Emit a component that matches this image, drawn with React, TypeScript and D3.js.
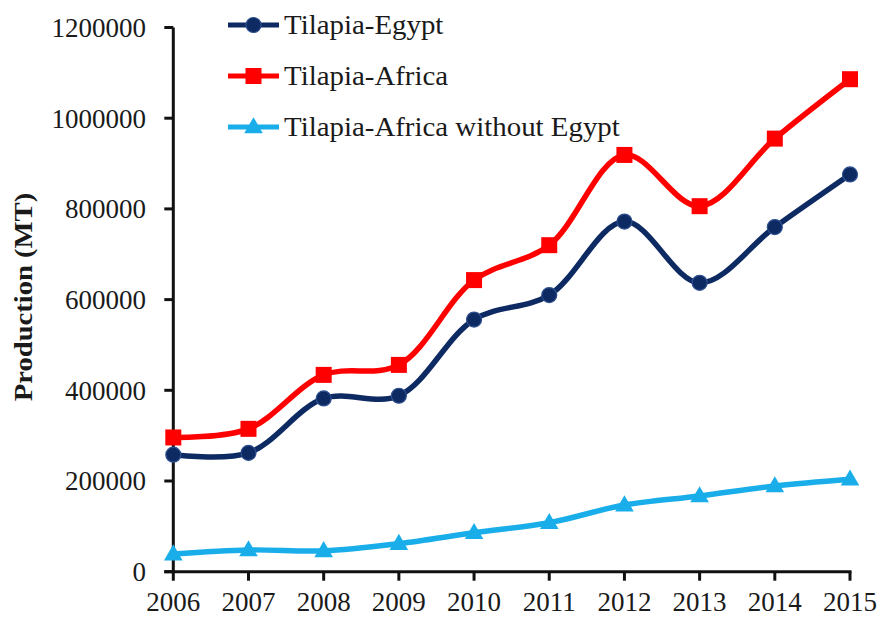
import React, { useEffect, useRef } from "react";
import * as d3 from "d3";

const years = [2006, 2007, 2008, 2009, 2010, 2011, 2012, 2013, 2014, 2015];
const egypt = [258000, 262000, 382000, 388000, 556000, 610000, 772000, 637000, 760000, 876000];
const africa = [296000, 315000, 434000, 456000, 643000, 720000, 919000, 806000, 955000, 1086000];
const africaNoEgypt = [39000, 48000, 46000, 62000, 86000, 108000, 147000, 167000, 189000, 204000];
const yTicks = [0, 200000, 400000, 600000, 800000, 1000000, 1200000];

const seriesList = [
    { name: "Tilapia-Egypt", values: egypt, color: "#0d2a63", marker: "circle" },
    { name: "Tilapia-Africa", values: africa, color: "#ff0000", marker: "square" },
    { name: "Tilapia-Africa without Egypt", values: africaNoEgypt, color: "#19aeea", marker: "triangle" },
];

const W = 881;
const H = 620;
const FONT = "'Liberation Serif', 'Times New Roman', serif";

export default function App() {
    const svgRef = useRef<SVGSVGElement>(null);

    useEffect(() => {
        if (!svgRef.current) return;
        const svg = d3.select(svgRef.current);
        svg.selectAll("*").remove();

        const x = d3.scaleLinear().domain([2006, 2015]).range([173.3, 850]);
        const y = d3.scaleLinear().domain([0, 1200000]).range([571.7, 27.5]);

        // axes
        const g = svg.append("g");
        g.append("line").attr("x1", x(2006)).attr("x2", x(2006)).attr("y1", y(1200000)).attr("y2", y(0))
            .attr("stroke", "#111").attr("stroke-width", 3);
        g.append("line").attr("x1", x(2006) - 9).attr("x2", x(2015) + 1.5).attr("y1", y(0)).attr("y2", y(0))
            .attr("stroke", "#111").attr("stroke-width", 3);

        yTicks.forEach(t => {
            g.append("line").attr("x1", x(2006) - 9).attr("x2", x(2006)).attr("y1", y(t)).attr("y2", y(t))
                .attr("stroke", "#111").attr("stroke-width", 3);
            g.append("text").attr("x", 146).attr("y", y(t)).attr("dy", "0.35em")
                .attr("text-anchor", "end").attr("font-family", FONT).attr("font-size", 27)
                .attr("fill", "#1a1a1a").text(String(t));
        });

        years.forEach(yr => {
            g.append("line").attr("x1", x(yr)).attr("x2", x(yr)).attr("y1", y(0)).attr("y2", y(0) + 9)
                .attr("stroke", "#111").attr("stroke-width", 3);
            g.append("text").attr("x", x(yr)).attr("y", 611)
                .attr("text-anchor", "middle").attr("font-family", FONT).attr("font-size", 27)
                .attr("fill", "#1a1a1a").text(String(yr));
        });

        // y title
        g.append("text")
            .attr("transform", "translate(32,297) rotate(-90) scale(1.1,1)")
            .attr("text-anchor", "middle").attr("font-family", FONT).attr("font-size", 26)
            .attr("font-weight", "bold").attr("fill", "#1a1a1a").text("Production (MT)");

        const drawMarker = (sel: d3.Selection<SVGGElement, unknown, null, undefined>, kind: string, cx: number, cy: number, color: string) => {
            if (kind === "circle") {
                sel.append("circle").attr("cx", cx).attr("cy", cy).attr("r", 7.5)
                    .attr("fill", color).attr("stroke", "#2f4f8f").attr("stroke-width", 1.2);
            } else if (kind === "square") {
                sel.append("rect").attr("x", cx - 8).attr("y", cy - 8).attr("width", 16).attr("height", 16)
                    .attr("fill", color);
            } else {
                const s = d3.symbol().type(d3.symbolTriangle).size(150);
                sel.append("path").attr("d", s()).attr("transform", `translate(${cx},${cy + 1})`)
                    .attr("fill", color);
            }
        };

        const line = d3.line<number>()
            .x((_, i) => x(years[i]))
            .y(d => y(d))
            .curve(d3.curveCatmullRom.alpha(0.5));

        seriesList.forEach(s => {
            const sg = svg.append("g");
            sg.append("path").attr("d", line(s.values)).attr("fill", "none")
                .attr("stroke", s.color).attr("stroke-width", 5.5).attr("stroke-linejoin", "round");
            s.values.forEach((v, i) => drawMarker(sg, s.marker, x(years[i]), y(v), s.color));
        });

        // legend
        const legendY = [25, 76, 127];
        seriesList.forEach((s, i) => {
            const lg = svg.append("g");
            const ly = legendY[i];
            lg.append("line").attr("x1", 228).attr("x2", 279).attr("y1", ly).attr("y2", ly)
                .attr("stroke", s.color).attr("stroke-width", 5);
            drawMarker(lg, s.marker, 253.5, ly, s.color);
            lg.append("text").attr("transform", `translate(284,${ly + 9}) scale(1.07,1)`)
                .attr("font-family", FONT).attr("font-size", 27).attr("fill", "#1a1a1a").text(s.name);
        });
    }, []);

    return (
        <svg ref={svgRef} width={W} height={H}
            style={{ position: "absolute", left: 0, top: 0, background: "#fff" }} />
    );
}
